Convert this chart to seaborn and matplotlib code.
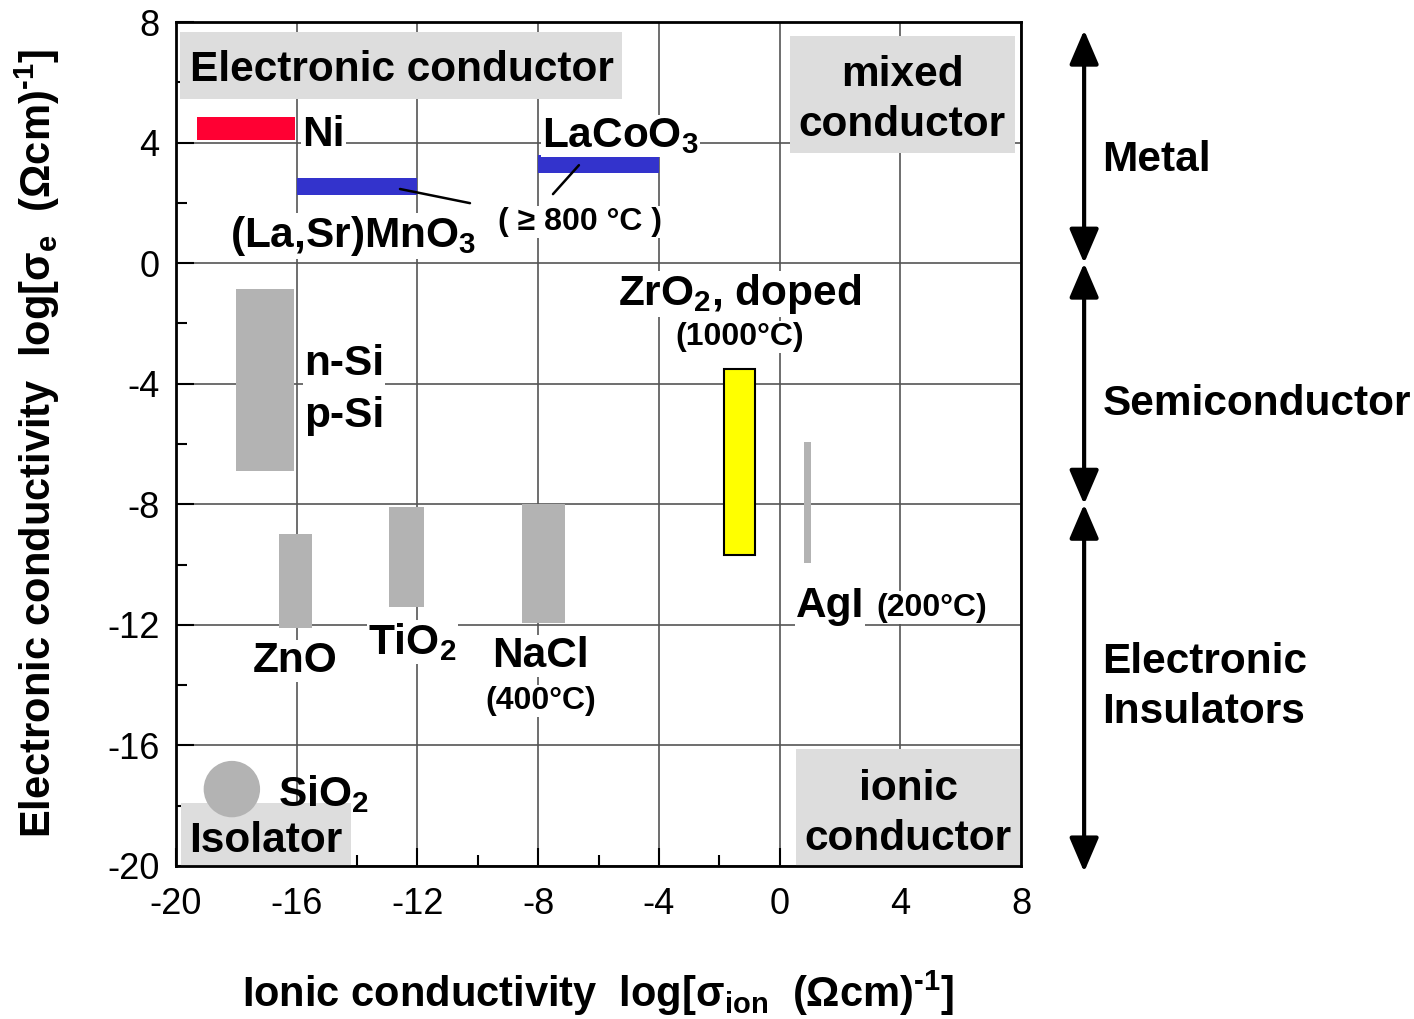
import numpy as np
import pandas as pd
import seaborn as sns
import matplotlib.pyplot as plt
from matplotlib.patches import Rectangle

# material ranges: log ionic (x) and log electronic (y) conductivity
materials = ["Ni", "(La,Sr)MnO3", "LaCoO3", "Si", "ZnO", "TiO2", "NaCl", "ZrO2", "AgI"]
x_lo = [-19.3, -16.0, -8.0, -18.0, -16.6, -12.95, -8.55, -1.85, 0.8]
x_hi = [-16.05, -12.0, -4.0, -16.1, -15.5, -11.8, -7.1, -0.8, 1.05]
y_lo = [4.1, 2.25, 3.0, -6.9, -12.1, -11.4, -11.95, -9.7, -9.95]
y_hi = [4.85, 2.82, 3.6, -0.85, -9.0, -8.1, -8.0, -3.5, -5.95]
fills = ["#ff0033", "#3333cc", "#3333cc", "#b3b3b3", "#b3b3b3", "#b3b3b3", "#b3b3b3", "#ffff00", "#b3b3b3"]
edges = ["none", "none", "none", "none", "none", "none", "none", "black", "none"]

sio2_x = [-18.15]
sio2_y = [-17.45]

ticks = [-20, -16, -12, -8, -4, 0, 4, 8]

sns.set_style("ticks")
plt.rcParams["font.family"] = ["Liberation Sans", "DejaVu Sans"]
plt.rcParams["axes.unicode_minus"] = False
plt.rcParams["text.color"] = "black"
plt.rcParams["axes.labelcolor"] = "black"
plt.rcParams["xtick.color"] = "black"
plt.rcParams["ytick.color"] = "black"
plt.rcParams["mathtext.fontset"] = "custom"
plt.rcParams["mathtext.rm"] = "Liberation Sans:bold"
plt.rcParams["mathtext.bf"] = "Liberation Sans:bold"
plt.rcParams["mathtext.it"] = "Liberation Sans:bold"
plt.rcParams["mathtext.default"] = "bf"

fig = plt.figure(figsize=(14.14, 10.19), dpi=100)
ax = fig.add_axes([0.1245, 0.1502, 0.5976, 0.8282])

ax.set_xlim(-20, 8)
ax.set_ylim(-20, 8)
ax.set_xticks(ticks)
ax.set_yticks(ticks)
ax.set_xticks(np.arange(-18, 8, 4), minor=True)
ax.set_yticks(np.arange(-18, 8, 4), minor=True)
ax.grid(True, which="major", color="#555555", lw=1.2, zorder=0)
ax.set_axisbelow(True)
ax.tick_params(which="major", direction="in", length=13, width=1.5, labelsize=26,
               top=False, right=False)
ax.tick_params(axis="x", which="major", pad=15)
ax.tick_params(axis="y", which="major", pad=12)
ax.tick_params(which="minor", direction="in", length=8, width=1.5, top=False, right=False)
for s in ax.spines.values():
    s.set_linewidth(2)
    s.set_color("black")

# rectangles for each material
ax.bar(x_lo, np.array(y_hi) - np.array(y_lo), width=np.array(x_hi) - np.array(x_lo),
       bottom=y_lo, align="edge", color=fills, edgecolor=edges, linewidth=1.5, zorder=3)

sns.scatterplot(x=sio2_x, y=sio2_y, s=1650, color="#b3b3b3", edgecolor="none", ax=ax, zorder=3)

# gray region boxes
boxes = [(-19.87, 5.45, 14.65, 2.22), (0.35, 3.65, 7.45, 3.89),
         (0.54, -20, 7.46, 3.88), (-19.83, -20, 5.63, 2.09)]
for bx, by, bw, bh in boxes:
    ax.add_patch(Rectangle((bx, by), bw, bh, facecolor="#dddddd", edgecolor="none", zorder=2))

d = -0.13  # small vertical nudge
big = dict(fontsize=30.5, fontweight="bold", zorder=5)
small = dict(fontsize=23, fontweight="bold", zorder=5)
wbox = dict(facecolor="white", edgecolor="none", pad=1)
ax.text(-19.55, 6.55 + d, "Electronic conductor", va="center", ha="left", **big)
ax.text(4.06, 5.54 + d, "mixed\nconductor", va="center", ha="center", linespacing=1.33, **big)
ax.text(4.26, -18.15 + d, "ionic\nconductor", va="center", ha="center", linespacing=1.33, **big)
ax.text(-19.55, -19.05 + d, "Isolator", va="center", ha="left", **big)

ax.text(-15.83, 4.38 + d, "Ni", va="center", ha="left", bbox=wbox, **big)
ax.text(-7.87, 4.35 + d, "LaCoO$_3$", va="center", ha="left", bbox=wbox, **big)
ax.text(-18.2, 1.03 + d, "(La,Sr)MnO$_3$", va="center", ha="left", bbox=wbox, **big)
ax.text(-9.33, 1.5 + d, "( ≥ 800 °C )", va="center", ha="left", bbox=wbox, **small)
ax.plot([-12.58, -10.26], [2.46, 1.99], color="black", lw=1.8, zorder=4)
ax.plot([-6.65, -7.51], [3.25, 2.29], color="black", lw=1.8, zorder=4)

ax.text(-5.35, -0.89 + d, "ZrO$_2$, doped", va="center", ha="left", bbox=wbox, **big)
ax.text(-1.31, -2.32 + d, "(1000°C)", va="center", ha="center", bbox=wbox, **small)
ax.text(-15.76, -3.21 + d, "n-Si", va="center", ha="left", bbox=wbox, **big)
ax.text(-15.76, -4.94 + d, "p-Si", va="center", ha="left", bbox=wbox, **big)
ax.text(-16.06, -13.07 + d, "ZnO", va="center", ha="center", bbox=wbox, **big)
ax.text(-13.64, -12.44 + d, "TiO$_2$", va="center", ha="left", bbox=wbox, **big)
ax.text(-7.91, -12.9 + d, "NaCl", va="center", ha="center", bbox=wbox, **big)
ax.text(-7.91, -14.4 + d, "(400°C)", va="center", ha="center", bbox=wbox, **small)
ax.text(0.54, -11.24 + d, "AgI", va="center", ha="left", bbox=wbox, **big)
ax.text(3.19, -11.3 + d, "(200°C)", va="center", ha="left", bbox=wbox, **small)
ax.text(-16.62, -17.48 + d, "SiO$_2$", va="center", ha="left", **big)

# class arrows on the right
ar = dict(arrowstyle="<|-|>,head_length=1.05,head_width=0.45", color="black", lw=3,
          shrinkA=0, shrinkB=0, mutation_scale=20)
for y0, y1 in [(7.73, 0), (0, -8), (-8, -20.2)]:
    ax.annotate("", xy=(10.09, y0), xytext=(10.09, y1), arrowprops=ar,
                annotation_clip=False)
ax.text(10.7, 3.55 + d, "Metal", va="center", ha="left", clip_on=False, **big)
ax.text(10.7, -4.54 + d, "Semiconductor", va="center", ha="left", clip_on=False, **big)
ax.text(10.7, -13.93 + d, "Electronic\nInsulators", va="center", ha="left", linespacing=1.33,
        clip_on=False, **big)

ax.set_xlabel("Ionic conductivity  log[σ$_{ion}$  (Ωcm)$^{\u20101}$]", fontsize=30,
              fontweight="bold", labelpad=34)
ax.set_ylabel("Electronic conductivity  log[σ$_e$  (Ωcm)$^{\u20101}$]", fontsize=30,
              fontweight="bold", labelpad=32)

fig.savefig("out.png", dpi=100)
